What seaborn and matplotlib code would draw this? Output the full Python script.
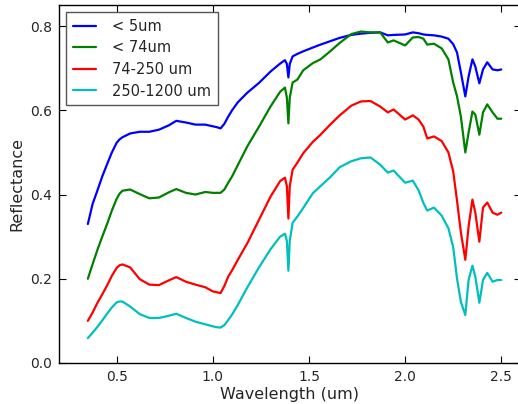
import numpy as np
import pandas as pd
import matplotlib
matplotlib.use("Agg")
import matplotlib.pyplot as plt
import seaborn as sns

# Wavelength grid (um) shared by all grain-size fractions
wavelength = [0.35, 0.375, 0.40, 0.425, 0.45, 0.475, 0.50, 0.515, 0.53, 0.57,
              0.62, 0.67, 0.72, 0.77, 0.81, 0.86, 0.91, 0.96, 1.00, 1.02,
              1.04, 1.06, 1.08, 1.10, 1.13, 1.18, 1.24, 1.30, 1.35, 1.375,
              1.385, 1.393, 1.40, 1.415, 1.44, 1.47, 1.52, 1.56, 1.61, 1.66,
              1.72, 1.77, 1.82, 1.87, 1.91, 1.94, 2.00, 2.04, 2.07, 2.095,
              2.115, 2.15, 2.19, 2.225, 2.25, 2.27, 2.29, 2.313, 2.33, 2.35,
              2.365, 2.386, 2.405, 2.427, 2.455, 2.48, 2.50]

refl_lt5 = [0.330, 0.378, 0.410, 0.443, 0.472, 0.500, 0.523, 0.531, 0.536, 0.545,
            0.549, 0.549, 0.554, 0.564, 0.575, 0.571, 0.566, 0.566, 0.562, 0.560,
            0.557, 0.568, 0.585, 0.600, 0.619, 0.642, 0.665, 0.692, 0.711, 0.719,
            0.710, 0.678, 0.710, 0.728, 0.734, 0.740, 0.749, 0.756, 0.764, 0.772,
            0.779, 0.782, 0.784, 0.785, 0.778, 0.779, 0.780, 0.785, 0.783, 0.780,
            0.779, 0.778, 0.775, 0.770, 0.757, 0.737, 0.690, 0.633, 0.680, 0.721,
            0.704, 0.664, 0.697, 0.714, 0.697, 0.695, 0.697]

refl_lt74 = [0.200, 0.235, 0.269, 0.300, 0.330, 0.362, 0.390, 0.402, 0.409, 0.412,
             0.401, 0.391, 0.393, 0.405, 0.413, 0.404, 0.400, 0.406, 0.404, 0.404,
             0.404, 0.412, 0.428, 0.443, 0.470, 0.515, 0.561, 0.609, 0.644, 0.654,
             0.630, 0.569, 0.630, 0.666, 0.673, 0.695, 0.712, 0.721, 0.740, 0.760,
             0.781, 0.787, 0.785, 0.785, 0.761, 0.766, 0.754, 0.773, 0.774, 0.770,
             0.756, 0.758, 0.747, 0.721, 0.666, 0.633, 0.585, 0.500, 0.547, 0.597,
             0.590, 0.542, 0.595, 0.614, 0.595, 0.580, 0.580]

refl_74_250 = [0.100, 0.120, 0.143, 0.163, 0.184, 0.207, 0.226, 0.232, 0.234, 0.227,
               0.199, 0.186, 0.185, 0.196, 0.204, 0.193, 0.186, 0.180, 0.170, 0.168,
               0.166, 0.183, 0.205, 0.220, 0.245, 0.285, 0.340, 0.395, 0.432, 0.440,
               0.420, 0.343, 0.420, 0.459, 0.476, 0.498, 0.525, 0.542, 0.566, 0.588,
               0.611, 0.621, 0.622, 0.609, 0.595, 0.602, 0.578, 0.588, 0.578, 0.561,
               0.533, 0.538, 0.527, 0.500, 0.455, 0.385, 0.310, 0.245, 0.324, 0.388,
               0.357, 0.288, 0.369, 0.381, 0.357, 0.352, 0.357]

refl_250_1200 = [0.059, 0.072, 0.086, 0.101, 0.117, 0.132, 0.144, 0.146, 0.146, 0.134,
                 0.116, 0.107, 0.107, 0.112, 0.117, 0.107, 0.098, 0.092, 0.087, 0.085,
                 0.084, 0.090, 0.102, 0.115, 0.138, 0.180, 0.227, 0.270, 0.300, 0.307,
                 0.290, 0.219, 0.290, 0.333, 0.348, 0.368, 0.403, 0.420, 0.441, 0.465,
                 0.479, 0.486, 0.488, 0.471, 0.452, 0.457, 0.428, 0.433, 0.410, 0.380,
                 0.362, 0.369, 0.350, 0.320, 0.275, 0.200, 0.145, 0.114, 0.197, 0.231,
                 0.205, 0.143, 0.197, 0.214, 0.193, 0.197, 0.197]

labels = ["< 5um", "< 74um", "74-250 um", "250-1200 um"]
series = [refl_lt5, refl_lt74, refl_74_250, refl_250_1200]
colors = ["#0000ff", "#008000", "#ff0000", "#00bfbf"]

x_ticks = [0.5, 1.0, 1.5, 2.0, 2.5]
y_ticks = [0.0, 0.2, 0.4, 0.6, 0.8]

df = pd.concat(
    [pd.DataFrame({"wavelength": wavelength, "reflectance": vals, "fraction": lab})
     for lab, vals in zip(labels, series)],
    ignore_index=True,
)

sns.set_style("white", {
    "xtick.direction": "in", "ytick.direction": "in",
    "xtick.top": True, "ytick.right": True,
    "xtick.bottom": True, "ytick.left": True,
    "axes.edgecolor": "black",
})
plt.rcParams["font.family"] = ["DejaVu Sans"]

W, H = 518, 404
fig = plt.figure(figsize=(W / 100, H / 100), dpi=100)
ax = fig.add_axes([59 / W, (H - 363) / H, (520.5 - 59) / W, (363 - 5) / H])

sns.lineplot(data=df, x="wavelength", y="reflectance", hue="fraction",
             hue_order=labels, palette=colors, linewidth=1.6,
             estimator=None, sort=False, ax=ax)

ax.set_xlim(0.2, 2.6)
ax.set_ylim(0.0, 0.85)
ax.set_xticks(x_ticks)
ax.set_yticks(y_ticks)
ax.set_xticklabels([f"{t:.1f}" for t in x_ticks])
ax.set_yticklabels([f"{t:.1f}" for t in y_ticks])
ax.tick_params(axis="both", which="both", length=5, width=0.8, labelsize=10,
               pad=5, color="black")
for s in ax.spines.values():
    s.set_linewidth(1.0)
    s.set_color("black")

ax.set_xlabel("Wavelength (um)", fontsize=11.5, labelpad=2)
ax.set_ylabel("Reflectance", fontsize=11.5, labelpad=4)

handles, labs = ax.get_legend_handles_labels()
leg = ax.legend(handles, labs, loc="upper left", fontsize=10.5, frameon=True,
                fancybox=False, edgecolor="#555555", framealpha=1.0,
                handlelength=1.6, handletextpad=1.1, borderpad=0.45,
                labelspacing=0.45, borderaxespad=0.5)
leg.get_frame().set_linewidth(1.0)
for ln in leg.get_lines():
    ln.set_linewidth(1.6)

fig.savefig("out.png", dpi=100)
